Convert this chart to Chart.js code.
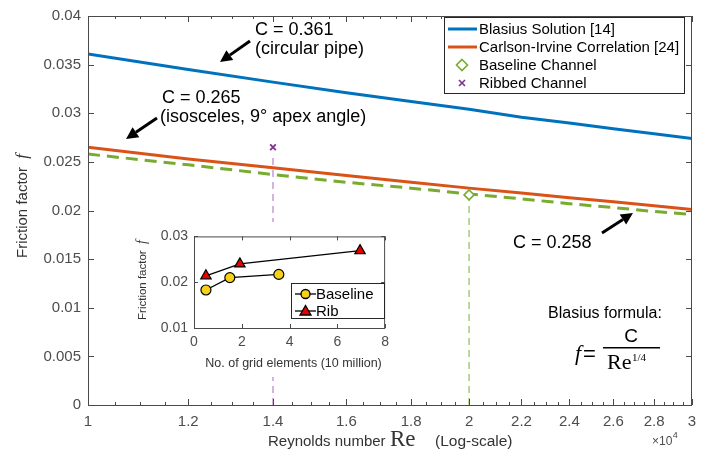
<!DOCTYPE html>
<html>
<head>
<meta charset="utf-8">
<script src="https://cdn.jsdelivr.net/npm/chart.js@4"></script>
<style>
  html, body { margin: 0; padding: 0; background: #fff; }
  #wrap { position: relative; width: 715px; height: 455px; }
  #main { position: absolute; left: 0; top: 0; }
  #inset { position: absolute; left: 120px; top: 222px; background: #fff; }
</style>
</head>
<body>
<div id="wrap">
  <canvas id="main" width="715" height="455"></canvas>
  <canvas id="inset" width="275" height="155"></canvas>
</div>
<script>
// Reynolds numbers where the correlation curves were read
const reGrid = [10000, 12000, 14000, 16000, 18000, 20000, 22000, 24000, 26000, 28000, 30000];
const blasius = [0.0361, 0.0345, 0.0332, 0.0321, 0.0312, 0.0304, 0.0296, 0.0290, 0.0284, 0.0279, 0.0274];
const carlsonIrvine = [0.0265, 0.0253, 0.0244, 0.0236, 0.0229, 0.0223, 0.0218, 0.0213, 0.0209, 0.0205, 0.0201];
const isosceles258 = [0.0258, 0.0247, 0.0237, 0.0229, 0.0223, 0.0217, 0.0212, 0.0207, 0.0203, 0.0199, 0.0196];

// single CFD points and their guide lines
const baselinePoint = [20000, 0.0216];
const ribPoint = [14000, 0.0265];
const baselineGuide = [0, 0.0211];
const ribGuide = [0, 0.0259];

const xTickVals = [10000, 12000, 14000, 16000, 18000, 20000, 22000, 24000, 26000, 28000, 30000];

// inset: grid study (10 million elements)
const baseN = [0.5, 1.5, 3.55];
const baseF = [0.0183, 0.0210, 0.0217];
const ribN = [0.5, 1.92, 6.95];
const ribF = [0.0214, 0.0240, 0.0269];

const BLUE = '#0072BD', ORANGE = '#D95319', GREEN = '#77AC30', PURPLE = '#7E2F8E';
const SANS = '"Liberation Sans", Arial, sans-serif';
const SERIF = '"Liberation Serif", "DejaVu Serif", serif';
const AXIS = '#4a4a4a', LABEL = '#4d4d4d';

const pts = (xs, ys) => xs.map((x, i) => ({ x, y: ys[i] }));

function arrow(ctx, x1, y1, x2, y2) {
  const ang = Math.atan2(y2 - y1, x2 - x1), L = 12, W = 6;
  const bx = x2 - L * Math.cos(ang), by = y2 - L * Math.sin(ang);
  ctx.strokeStyle = '#000'; ctx.fillStyle = '#000'; ctx.lineWidth = 3;
  ctx.beginPath(); ctx.moveTo(x1, y1); ctx.lineTo(bx, by); ctx.stroke();
  ctx.beginPath();
  ctx.moveTo(x2, y2);
  ctx.lineTo(bx + W * Math.sin(ang), by - W * Math.cos(ang));
  ctx.lineTo(bx - W * Math.sin(ang), by + W * Math.cos(ang));
  ctx.closePath(); ctx.fill();
}

const mainDecor = {
  id: 'mainDecor',
  afterDraw(chart) {
    const { ctx, chartArea: a, scales: { x, y } } = chart;
    ctx.save();
    ctx.strokeStyle = AXIS; ctx.lineWidth = 1;
    ctx.strokeRect(a.left + 0.5, a.top + 0.5, a.right - a.left - 1, a.bottom - a.top);

    // inward ticks, minor x ticks every 500
    ctx.beginPath();
    for (let v = 10000; v <= 30000; v += 500) {
      const px = Math.round(x.getPixelForValue(v)) + 0.5;
      const len = v % 2000 === 0 ? 6 : 3;
      ctx.moveTo(px, a.bottom); ctx.lineTo(px, a.bottom - len);
      ctx.moveTo(px, a.top); ctx.lineTo(px, a.top + len);
    }
    for (let v = 0; v <= 0.04001; v += 0.005) {
      const py = Math.round(y.getPixelForValue(v)) + 0.5;
      ctx.moveTo(a.left, py); ctx.lineTo(a.left + 6, py);
      ctx.moveTo(a.right, py); ctx.lineTo(a.right - 6, py);
    }
    ctx.stroke();

    // axis titles
    ctx.fillStyle = '#333';
    ctx.textBaseline = 'alphabetic';
    ctx.font = '15px ' + SANS;
    ctx.fillText('Reynolds number', 268, 446);
    ctx.font = '23px ' + SERIF;
    ctx.fillText('Re', 390, 446);
    ctx.font = '15.5px ' + SANS;
    ctx.fillText('(Log-scale)', 435, 446);

    ctx.fillStyle = LABEL;
    ctx.font = '12px ' + SANS;
    ctx.fillText('\u00d710', 652, 445);
    const wx = ctx.measureText('\u00d710').width;
    ctx.font = '9px ' + SANS;
    ctx.fillText('4', 652 + wx + 0.5, 438);

    ctx.save();
    ctx.translate(27, 206);
    ctx.rotate(-Math.PI / 2);
    ctx.fillStyle = '#333';
    ctx.font = '15px ' + SANS;
    const t1 = 'Friction factor  ';
    const w1 = ctx.measureText(t1).width;
    ctx.font = 'italic 17px ' + SERIF;
    const w2 = ctx.measureText('f').width;
    const sx = -(w1 + w2) / 2;
    ctx.font = '15px ' + SANS;
    ctx.fillText(t1, sx, 0);
    ctx.font = 'italic 17px ' + SERIF;
    ctx.fillText('f', sx + w1, 0);
    ctx.restore();

    // annotations
    ctx.fillStyle = '#000';
    ctx.font = '18px ' + SANS;
    ctx.fillText('C = 0.361', 255, 35);
    ctx.fillText('(circular pipe)', 255, 54);
    arrow(ctx, 250, 41, 220, 62);
    ctx.fillStyle = '#000';
    ctx.fillText('C = 0.265', 162, 103);
    ctx.fillText('(isosceles, 9\u00b0 apex angle)', 160, 122);
    arrow(ctx, 157, 118, 126, 139);
    ctx.fillStyle = '#000';
    ctx.fillText('C = 0.258', 513, 248);
    arrow(ctx, 602, 233, 633, 213);

    // Blasius formula
    ctx.fillStyle = '#000';
    ctx.font = '16px ' + SANS;
    ctx.fillText('Blasius formula:', 548, 318);
    ctx.font = 'italic 22px ' + SERIF;
    ctx.fillText('f', 575, 360);
    ctx.font = '22px ' + SANS;
    ctx.fillText('=', 583, 361);
    ctx.fillRect(603, 347, 57, 1.5);
    ctx.font = '19px ' + SANS;
    ctx.textAlign = 'center';
    ctx.fillText('C', 631, 342);
    ctx.textAlign = 'left';
    ctx.font = '22px ' + SERIF;
    ctx.fillText('Re', 607, 369);
    const wre = ctx.measureText('Re').width;
    ctx.font = '11px ' + SERIF;
    ctx.fillText('1/4', 607 + wre + 0.5, 361);

    // legend
    const lx = 444.5, ly = 17.5;
    ctx.fillStyle = '#fff';
    ctx.fillRect(lx, ly, 240, 76);
    ctx.strokeStyle = '#262626'; ctx.lineWidth = 1;
    ctx.strokeRect(lx, ly, 240, 76);
    const rows = [29, 47, 65, 83];
    ctx.lineWidth = 3;
    ctx.strokeStyle = BLUE;
    ctx.beginPath(); ctx.moveTo(448, rows[0]); ctx.lineTo(477, rows[0]); ctx.stroke();
    ctx.strokeStyle = ORANGE;
    ctx.beginPath(); ctx.moveTo(448, rows[1]); ctx.lineTo(477, rows[1]); ctx.stroke();
    ctx.lineWidth = 1.6;
    ctx.strokeStyle = GREEN;
    ctx.beginPath();
    ctx.moveTo(462, rows[2] - 5.5); ctx.lineTo(467.5, rows[2]); ctx.lineTo(462, rows[2] + 5.5); ctx.lineTo(456.5, rows[2]);
    ctx.closePath(); ctx.stroke();
    ctx.strokeStyle = PURPLE; ctx.lineWidth = 1.6;
    ctx.beginPath();
    ctx.moveTo(459, rows[3] - 3); ctx.lineTo(465, rows[3] + 3);
    ctx.moveTo(465, rows[3] - 3); ctx.lineTo(459, rows[3] + 3);
    ctx.stroke();
    ctx.fillStyle = '#000';
    ctx.font = '15px ' + SANS;
    ctx.textBaseline = 'middle';
    ['Blasius Solution [14]', 'Carlson-Irvine Correlation [24]', 'Baseline Channel', 'Ribbed Channel']
      .forEach((t, i) => ctx.fillText(t, 479, rows[i] + 1));
    ctx.restore();
  }
};

new Chart(document.getElementById('main'), {
  type: 'line',
  data: {
    datasets: [
      { label: 'Ribbed Channel', data: [{ x: ribPoint[0], y: ribPoint[1] }], showLine: false,
        pointStyle: 'crossRot', pointRadius: 4, pointBorderColor: PURPLE, pointBorderWidth: 1.8 },
      { label: 'Baseline Channel', data: [{ x: baselinePoint[0], y: baselinePoint[1] }], showLine: false,
        pointStyle: 'rectRot', pointRadius: 5, pointBorderColor: GREEN, pointBackgroundColor: '#fff', pointBorderWidth: 1.6 },
      { label: 'Blasius Solution [14]', data: pts(reGrid, blasius), borderColor: BLUE, borderWidth: 3, pointRadius: 0 },
      { label: 'Carlson-Irvine Correlation [24]', data: pts(reGrid, carlsonIrvine), borderColor: ORANGE, borderWidth: 3, pointRadius: 0 },
      { label: 'C = 0.258', data: pts(reGrid, isosceles258), borderColor: GREEN, borderWidth: 3, borderDash: [12, 7], pointRadius: 0 },
      { label: 'baseline guide', data: pts([baselinePoint[0], baselinePoint[0]], baselineGuide),
        borderColor: '#a9cf7d', borderWidth: 1.6, borderDash: [7, 5], pointRadius: 0 },
      { label: 'rib guide', data: pts([ribPoint[0], ribPoint[0]], ribGuide),
        borderColor: '#c9a3d6', borderWidth: 1.6, borderDash: [7, 5], pointRadius: 0 },
    ],
  },
  options: {
    responsive: false,
    animation: false,
    devicePixelRatio: 1,
    layout: { padding: { top: 7, right: 23, left: 0, bottom: 0 } },
    plugins: { legend: { display: false }, tooltip: { enabled: false } },
    scales: {
      x: {
        type: 'logarithmic', min: 10000, max: 30000,
        afterBuildTicks: s => { s.ticks = xTickVals.map(v => ({ value: v })); },
        afterFit: s => { s.height = 50; },
        grid: { display: false, drawTicks: false },
        border: { display: false },
        ticks: {
          autoSkip: false, maxRotation: 0, padding: 8, color: LABEL,
          font: { family: SANS, size: 15 },
          callback: v => String(+(v / 1e4).toFixed(1)),
        },
      },
      y: {
        min: 0, max: 0.04,
        afterFit: s => { s.width = 88; },
        grid: { display: false, drawTicks: false },
        border: { display: false },
        ticks: {
          stepSize: 0.005, padding: 7, color: LABEL,
          font: { family: SANS, size: 15 },
          callback: v => String(+v.toFixed(3)),
        },
      },
    },
  },
  plugins: [mainDecor],
});

const insetDecor = {
  id: 'insetDecor',
  afterDraw(chart) {
    const { ctx, chartArea: a, scales: { x, y } } = chart;
    ctx.save();
    ctx.strokeStyle = AXIS; ctx.lineWidth = 1;
    ctx.strokeRect(a.left + 0.5, a.top + 0.5, a.right - a.left - 1, a.bottom - a.top);
    ctx.beginPath();
    for (let v = 0; v <= 8; v += 2) {
      const px = Math.round(x.getPixelForValue(v)) + 0.5;
      ctx.moveTo(px, a.bottom); ctx.lineTo(px, a.bottom - 4);
      ctx.moveTo(px, a.top); ctx.lineTo(px, a.top + 4);
    }
    for (let v = 0.01; v <= 0.03001; v += 0.01) {
      const py = Math.round(y.getPixelForValue(v)) + 0.5;
      ctx.moveTo(a.left, py); ctx.lineTo(a.left + 4, py);
      ctx.moveTo(a.right, py); ctx.lineTo(a.right - 4, py);
    }
    ctx.stroke();

    ctx.fillStyle = '#333';
    ctx.textBaseline = 'alphabetic';
    ctx.font = '12.5px ' + SANS;
    ctx.textAlign = 'center';
    ctx.fillText('No. of grid elements (10 million)', (a.left + a.right) / 2 + 4, 145);
    ctx.textAlign = 'left';

    ctx.save();
    ctx.translate(26, 58);
    ctx.rotate(-Math.PI / 2);
    ctx.font = '11.5px ' + SANS;
    const t1 = 'Friction factor  ';
    const w1 = ctx.measureText(t1).width;
    ctx.font = 'italic 14px ' + SERIF;
    const w2 = ctx.measureText('f').width;
    const sx = -(w1 + w2) / 2;
    ctx.font = '11.5px ' + SANS;
    ctx.fillText(t1, sx, 0);
    ctx.font = 'italic 14px ' + SERIF;
    ctx.fillText('f', sx + w1, 0);
    ctx.restore();

    // legend
    const lx = 171.5, ly = 61.5;
    ctx.fillStyle = '#fff';
    ctx.fillRect(lx, ly, 93, 35);
    ctx.strokeStyle = '#262626'; ctx.lineWidth = 1;
    ctx.strokeRect(lx, ly, 93, 35);
    const rows = [72, 89];
    ctx.lineWidth = 1.3; ctx.strokeStyle = '#000';
    rows.forEach(r => { ctx.beginPath(); ctx.moveTo(175, r); ctx.lineTo(196, r); ctx.stroke(); });
    ctx.fillStyle = '#F7D117';
    ctx.beginPath(); ctx.arc(185.5, rows[0], 4.5, 0, Math.PI * 2); ctx.fill(); ctx.stroke();
    ctx.fillStyle = '#E60000';
    ctx.beginPath();
    ctx.moveTo(185.5, rows[1] - 5.5); ctx.lineTo(191, rows[1] + 4); ctx.lineTo(180, rows[1] + 4);
    ctx.closePath(); ctx.fill(); ctx.stroke();
    ctx.fillStyle = '#000';
    ctx.font = '15px ' + SANS;
    ctx.textBaseline = 'middle';
    ctx.fillText('Baseline', 196, rows[0] + 1);
    ctx.fillText('Rib', 196, rows[1] + 1);
    ctx.restore();
  }
};

new Chart(document.getElementById('inset'), {
  type: 'line',
  data: {
    datasets: [
      { label: 'Baseline', data: pts(baseN, baseF), borderColor: '#000', borderWidth: 1.3,
        pointStyle: 'circle', pointRadius: 5, pointBackgroundColor: '#F7D117', pointBorderColor: '#000', pointBorderWidth: 1.2 },
      { label: 'Rib', data: pts(ribN, ribF), borderColor: '#000', borderWidth: 1.3,
        pointStyle: 'triangle', pointRadius: 6, pointBackgroundColor: '#E60000', pointBorderColor: '#000', pointBorderWidth: 1.2 },
    ],
  },
  options: {
    responsive: false,
    animation: false,
    devicePixelRatio: 1,
    layout: { padding: { top: 10, right: 9, left: 0, bottom: 0 } },
    plugins: { legend: { display: false }, tooltip: { enabled: false } },
    scales: {
      x: {
        type: 'linear', min: 0, max: 8,
        afterFit: s => { s.height = 49; },
        grid: { display: false, drawTicks: false },
        border: { display: false },
        ticks: { stepSize: 2, padding: 6, color: LABEL, font: { family: SANS, size: 14 } },
      },
      y: {
        min: 0.01, max: 0.03,
        afterFit: s => { s.width = 74; },
        grid: { display: false, drawTicks: false },
        border: { display: false },
        ticks: { stepSize: 0.01, padding: 6, color: LABEL, font: { family: SANS, size: 14 },
          callback: v => String(+v.toFixed(2)) },
      },
    },
  },
  plugins: [insetDecor],
});
</script>
</body>
</html>
